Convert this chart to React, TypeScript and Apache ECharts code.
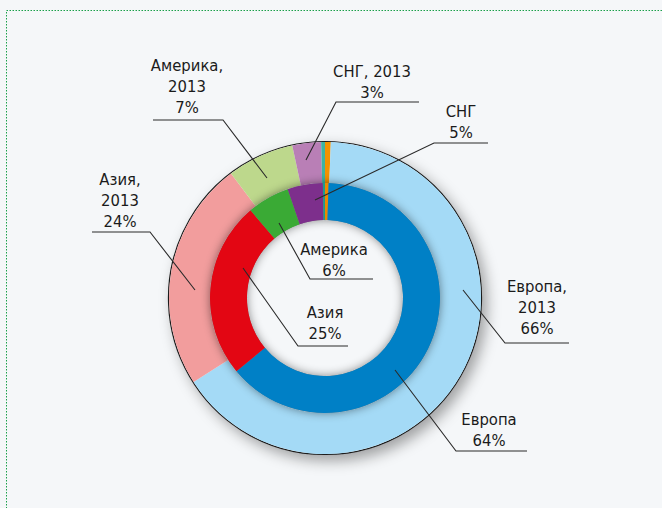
import React, { useEffect, useRef } from "react";
import * as echarts from "echarts";

// ---- data ----
const regions = ["Европа", "Азия", "Америка", "СНГ"];
const share2013 = [66, 24, 7, 3];
const shareNow = [64, 25, 6, 5];
// two thin unlabeled slices next to 12 o'clock (orange before, teal after)
const smallOrange2013 = 0.6;
const smallTeal2013 = 0.4;
const smallOrangeNow = 0.5;
const smallTealNow = 0.3;

// ---- styles ----
const outerColors = ["#f39200", "#a4daf6", "#f29d9d", "#bdd88c", "#b97fb6", "#3db3a3"];
const innerColors = ["#ec8a00", "#0080c6", "#e30613", "#3aaa35", "#7d2f8c", "#1f9c8c"];
const BG = "#f5f7f9";
const FONT = "'DejaVu Sans Condensed', 'Liberation Sans Narrow', sans-serif";

// label layout (text centre x, last text line centre y, leader points)
type L = { tx: number; ty: number; pts: number[][] };
const outerLayout: Record<number, L> = {
  1: { tx: 537, ty: 328, pts: [[463, 290], [505, 343], [569, 343]] },
  2: { tx: 120, ty: 221, pts: [[195, 290], [150, 232], [92, 232]] },
  3: { tx: 187, ty: 107, pts: [[267, 178], [223, 120], [153, 120]] },
  4: { tx: 372, ty: 92, pts: [[306, 160], [336, 102], [419, 102]] },
};
const innerLayout: Record<number, L> = {
  1: { tx: 489, ty: 440, pts: [[395, 370], [456, 451], [527, 451]] },
  2: { tx: 325, ty: 333, pts: [[243, 268], [298, 346], [348, 346]] },
  3: { tx: 334, ty: 270, pts: [[279, 223], [310, 279], [373, 279]] },
  4: { tx: 461, ty: 132, pts: [[315, 200], [434, 143], [488, 143]] },
};

const CENTER = [325, 298];

function buildData(vals: number[], orange: number, teal: number, colors: string[]) {
  const all = [orange, ...vals, teal];
  const names = ["o", ...regions, "t"];
  return all.map((v, i) => ({
    name: names[i],
    value: v,
    itemStyle: { color: colors[i] },
    label: { show: i > 0 && i <= regions.length },
  }));
}

function makeLayout(map: Record<number, L>) {
  return (p: any) => {
    const l = map[p.dataIndex];
    if (!l) return {};
    return { x: l.tx, y: l.ty + 10.5, align: "center", verticalAlign: "bottom" };
  };
}

const labelText = {
  color: "#1b1b1b",
  fontFamily: FONT,
  fontSize: 16.5,
  lineHeight: 21,
  align: "center",
};

function leaders(): any[] {
  const all = [...Object.values(outerLayout), ...Object.values(innerLayout)];
  return all.map((l) => ({
    type: "polyline",
    silent: true,
    z: 100,
    shape: { points: l.pts },
    style: { fill: "none", stroke: "#2a2a2a", lineWidth: 1.1 },
  }));
}

export default function App() {
  const ref = useRef<HTMLDivElement>(null);
  useEffect(() => {
    if (!ref.current) return;
    const chart = echarts.init(ref.current, null, { renderer: "svg" });
    chart.setOption({
      animation: false,
      backgroundColor: BG,
      graphic: [
        {
          type: "rect",
          silent: true,
          shape: { x: 6.5, y: 10.5, width: 720, height: 600 },
          style: { fill: "none", stroke: "#1aa04a", lineWidth: 1, lineDash: [1.5, 1.5] },
        },
        ...leaders(),
      ],
      series: [
        {
          type: "pie",
          silent: true,
          center: CENTER,
          radius: [0, 156.5],
          label: { show: false },
          labelLine: { show: false },
          itemStyle: {
            color: BG,
            borderColor: "#1a1a1a",
            borderWidth: 1.2,
            shadowBlur: 14,
            shadowOffsetX: 5,
            shadowOffsetY: 6,
            shadowColor: "rgba(0,0,0,0.35)",
          },
          data: [{ value: 1, name: "bg" }],
          z: 1,
        },
        {
          type: "pie",
          name: "2013",
          silent: true,
          center: CENTER,
          radius: [115, 156],
          startAngle: 90,
          clockwise: true,
          avoidLabelOverlap: false,
          label: {
            position: "outside",
            ...labelText,
            formatter: (p: any) =>
              p.name + (p.name === "СНГ" ? ", 2013" : ",\n2013") + "\n" + p.value + "%",
          },
          labelLine: { show: false },
          labelLayout: makeLayout(outerLayout),
          data: buildData(share2013, smallOrange2013, smallTeal2013, outerColors),
          z: 2,
        },
        {
          type: "pie",
          silent: true,
          center: CENTER,
          radius: [78, 115],
          label: { show: false },
          labelLine: { show: false },
          itemStyle: {
            color: "#888",
            shadowBlur: 10,
            shadowColor: "rgba(0,0,0,0.45)",
          },
          data: [{ value: 1, name: "sh" }],
          z: 3,
        },
        {
          type: "pie",
          name: "now",
          silent: true,
          center: CENTER,
          radius: [78, 115],
          startAngle: 90,
          clockwise: true,
          avoidLabelOverlap: false,
          label: {
            position: "outside",
            ...labelText,
            formatter: (p: any) => p.name + "\n" + p.value + "%",
          },
          labelLine: { show: false },
          labelLayout: makeLayout(innerLayout),
          data: buildData(shareNow, smallOrangeNow, smallTealNow, innerColors),
          z: 4,
        },
      ],
    });
    return () => chart.dispose();
  }, []);
  return (
    <div
      ref={ref}
      style={{ position: "fixed", left: 0, top: 0, width: 662, height: 508 }}
    />
  );
}
